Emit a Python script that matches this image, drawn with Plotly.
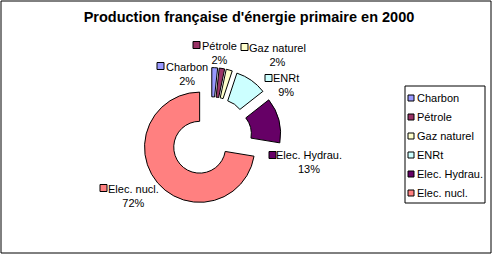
import plotly.graph_objects as go

# ---- data ----
categories = ["Charbon", "Pétrole", "Gaz naturel", "ENRt", "Elec. Hydrau.", "Elec. nucl."]
values = [1.7, 1.6, 1.8, 9.3, 13.2, 72.4]
colors = ["#9999FF", "#993366", "#FFFFCC", "#CCFFFF", "#660066", "#FF8080"]
title = "Production française d'énergie primaire en 2000"

# ---- layout helpers (pixel -> paper) ----
W, H = 497, 258
def px(x):
    return x / W
def py(y):
    return 1 - y / H

FONT = "Liberation Sans, Arial, sans-serif"
total = sum(values)
pcts = [round(v / total * 100) for v in values]

fig = go.Figure()
fig.add_trace(go.Pie(
    labels=categories,
    values=values,
    sort=False,
    direction="clockwise",
    rotation=0,
    hole=0.47,
    pull=[0.27] * len(values),
    marker=dict(colors=colors, line=dict(color="black", width=1)),
    textinfo="none",
    hoverinfo="label+percent",
    showlegend=False,
    domain=dict(x=[px(211 - 70), px(211 + 70)], y=[py(137.6 + 70), py(137.6 - 70)]),
))

annotations = []
shapes = []

# data labels: (center x, center y of two-line block, key left x, key center y)
label_pos = [
    (187, 73.5, 157, 66),
    (219, 53, 193, 45),
    (277, 55, 241, 47),
    (286, 85, 265, 78),
    (309, 162, 269, 155),
    (133, 195.5, 100, 188),
]
KS = 7
for name, pct, col, (cx, cy, kx, ky) in zip(categories, pcts, colors, label_pos):
    annotations.append(dict(
        x=px(cx), y=py(cy), xref="paper", yref="paper",
        xanchor="center", yanchor="middle", showarrow=False,
        text=f"{name}<br>{pct}%", align="center",
        font=dict(family=FONT, size=11, color="black"),
    ))
    shapes.append(dict(
        type="rect", xref="paper", yref="paper",
        x0=px(kx), x1=px(kx + KS), y0=py(ky - KS / 2), y1=py(ky + KS / 2),
        fillcolor=col, line=dict(color="black", width=1),
    ))

# custom legend
LX0, LY0, LX1, LY1 = 405, 86, 485, 203
shapes.append(dict(type="rect", xref="paper", yref="paper",
                   x0=px(LX0), x1=px(LX1), y0=py(LY0), y1=py(LY1),
                   line=dict(color="black", width=1), fillcolor="white", layer="below"))
for i, (name, col) in enumerate(zip(categories, colors)):
    yc = 98 + 19 * i
    shapes.append(dict(
        type="rect", xref="paper", yref="paper",
        x0=px(408), x1=px(414), y0=py(yc - 3), y1=py(yc + 3),
        fillcolor=col, line=dict(color="black", width=1),
    ))
    annotations.append(dict(
        x=px(415), y=py(yc), xref="paper", yref="paper",
        xanchor="left", yanchor="middle", showarrow=False,
        text=name, font=dict(family=FONT, size=11, color="black"),
    ))

# outer frame
shapes.append(dict(type="rect", xref="paper", yref="paper",
                   x0=px(1), x1=px(491), y0=py(1), y1=py(253),
                   line=dict(color="black", width=1), layer="below"))

fig.update_layout(
    width=W, height=H,
    margin=dict(l=0, r=0, t=0, b=0),
    paper_bgcolor="white",
    plot_bgcolor="white",
    title=dict(text=f"<b>{title}</b>", x=px(249), y=py(17), xref="paper", yref="paper",
               xanchor="center", yanchor="middle",
               font=dict(family=FONT, size=14.5, color="black")),
    annotations=annotations,
    shapes=shapes,
)

fig.write_html("out.html")
